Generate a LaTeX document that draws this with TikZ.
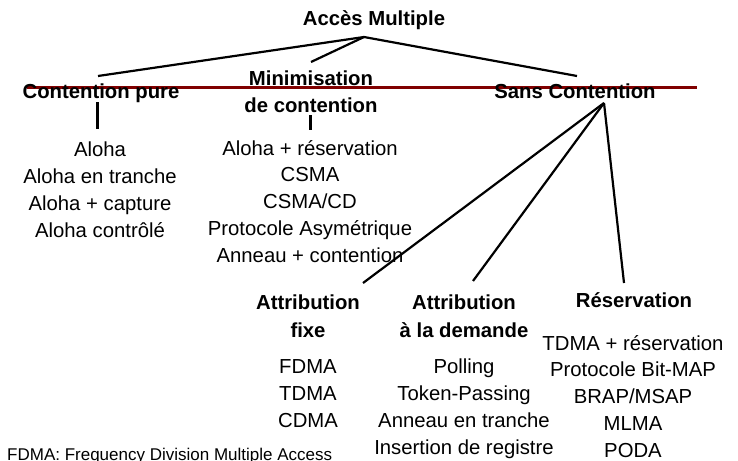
\documentclass[tikz,border=0pt]{standalone}
\usepackage{fontspec}
\setmainfont{Liberation Sans}
\definecolor{barred}{RGB}{128,0,0}
\begin{document}
\begin{tikzpicture}[x=1pt,y=-1pt,
  head/.style={font=\fontsize{20.3}{24}\selectfont\bfseries, anchor=base, inner sep=0pt},
  item/.style={font=\fontsize{20.3}{24}\selectfont, anchor=base, inner sep=0pt},
  note/.style={font=\fontsize{17}{20}\selectfont, anchor=base west, inner sep=0pt},
  link/.style={line width=2.2pt, black},
  stub/.style={line width=3pt, black},
  bar/.style={line width=3pt, barred}]
\clip (0,0) rectangle (738,460);
% red bar
\coordinate (barL) at (27,87);
\coordinate (barR) at (697,87);
\draw[bar] (barL) -- (barR);
% headings
\node[head] (am) at (374,26) {Accès Multiple};
\node[head] (cp) at (101,98) {Contention pure};
\node[head] (mc1) at (311,85) {Minimisation};
\node[head] (mc2) at (311,112) {de contention};
\node[head] (sc) at (575,98) {Sans Contention};
\node[head] (af1) at (308,309) {Attribution};
\node[head] (af2) at (308,337) {fixe};
\node[head] (ad1) at (464,309) {Attribution};
\node[head] (ad2) at (464,337) {à la demande};
\node[head] (rs) at (634,307) {Réservation};
% lists
\foreach \t [count=\i] in {Aloha, Aloha en tranche, Aloha + capture, Aloha contrôlé}
  \node[item] (cpl\i) at (100,{156+27*(\i-1)}) {\t};
\foreach \t [count=\i] in {Aloha + réservation, CSMA, CSMA/CD, Protocole Asymétrique, Anneau + contention}
  \node[item] (mcl\i) at (310,{155+26.75*(\i-1)}) {\t};
\foreach \t [count=\i] in {FDMA, TDMA, CDMA}
  \node[item] (afl\i) at (308,{373+27*(\i-1)}) {\t};
\foreach \t [count=\i] in {Polling, Token-Passing, Anneau en tranche, Insertion de registre}
  \node[item] (adl\i) at (464,{373+27.2*(\i-1)}) {\t};
\foreach \t [count=\i] in {TDMA + réservation, Protocole Bit-MAP, BRAP/MSAP, MLMA, PODA}
  \node[item] (rsl\i) at (633,{350+26.8*(\i-1)}) {\t};
% footnote
\node[note] (fn) at (7,460) {FDMA: Frequency Division Multiple Access};
% connector points
\coordinate (amJ) at (364,37);
\coordinate (cpT) at (98,76);
\coordinate (mcT) at (311,62);
\coordinate (scT) at (577,76);
\coordinate (cpB) at (97,102);
\coordinate (cpL) at (97,129);
\coordinate (mcB) at (310,115);
\coordinate (mcL) at (310,130);
\coordinate (scJ) at (604,103);
\coordinate (afT) at (363,283);
\coordinate (adT) at (473,281);
\coordinate (rsT) at (624,283);
% connectors
\draw[link] (amJ) -- (cpT);
\draw[link] (amJ) -- (mcT);
\draw[link] (amJ) -- (scT);
\draw[stub] (cpB) -- (cpL);
\draw[stub] (mcB) -- (mcL);
\draw[link] (scJ) -- (afT);
\draw[link] (scJ) -- (adT);
\draw[link] (scJ) -- (rsT);
\end{tikzpicture}
\end{document}
